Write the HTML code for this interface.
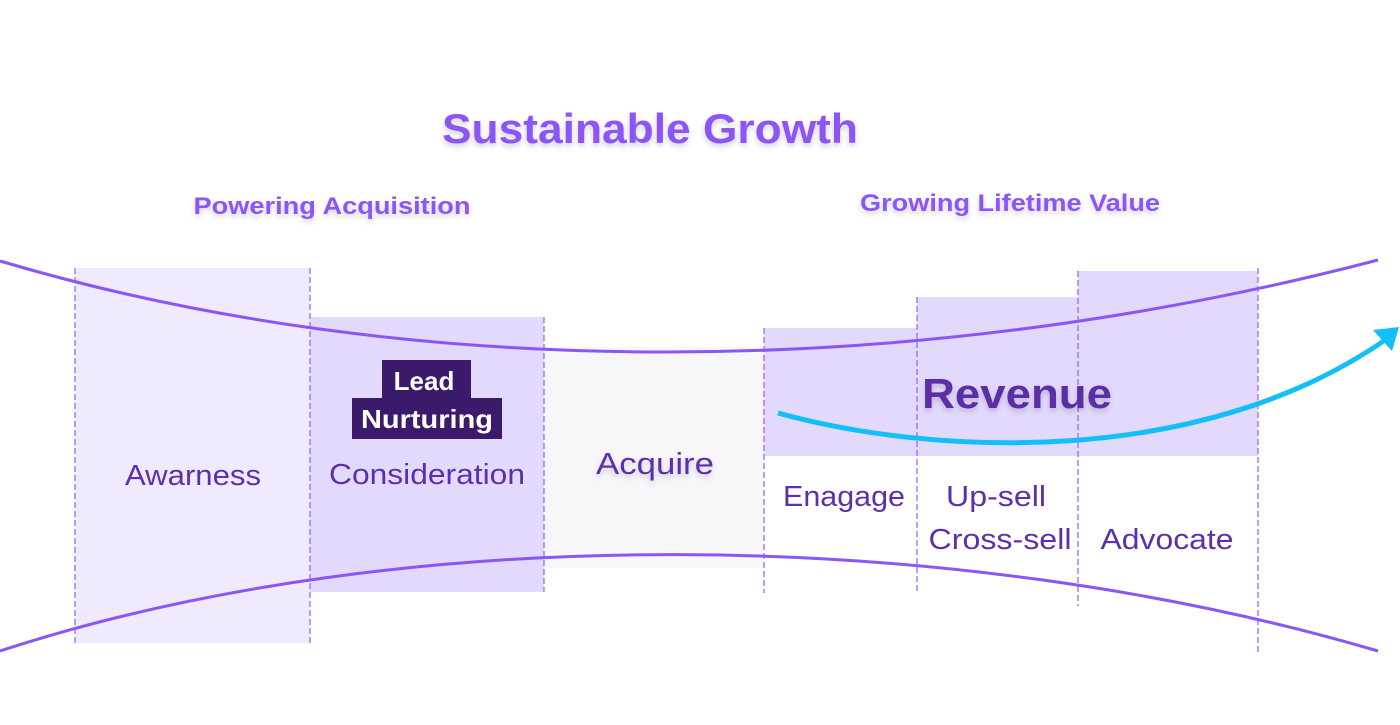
<!DOCTYPE html>
<html><head><meta charset="utf-8"><style>
html,body{margin:0;padding:0;background:#fff;}
svg{display:block;font-family:"Liberation Sans",sans-serif;}
</style></head><body>
<svg width="1400" height="725" viewBox="0 0 1400 725" xmlns="http://www.w3.org/2000/svg">
<defs>
<filter id="sh" x="-10%" y="-30%" width="120%" height="160%"><feDropShadow dx="0" dy="3" stdDeviation="3" flood-color="#000" flood-opacity="0.18"/></filter>
</defs>
<rect width="1400" height="725" fill="#fff"/>
<rect x="75" y="268" width="235" height="375" fill="#efeafd"/>
<rect x="310" y="317" width="234" height="275" fill="#e3d9fd"/>
<rect x="544" y="347" width="220" height="221" fill="#f7f7fa"/>
<rect x="764" y="328" width="153" height="128" fill="#e3d9fd"/>
<rect x="917" y="297" width="161" height="159" fill="#e3d9fd"/>
<rect x="1078" y="271" width="180" height="185" fill="#e3d9fd"/>
<g stroke="#9b6bff" stroke-width="1.3" stroke-dasharray="6,3" fill="none">
<line x1="75" y1="268" x2="75" y2="643"/>
<line x1="310" y1="268" x2="310" y2="643"/>
<line x1="544" y1="317" x2="544" y2="592"/>
<line x1="764" y1="328" x2="764" y2="593"/>
<line x1="917" y1="297" x2="917" y2="593"/>
<line x1="1078" y1="271" x2="1078" y2="606"/>
<line x1="1258" y1="268" x2="1258" y2="652"/>
</g>
<path d="M0,261 C 400,380 900,385 1378,260" stroke="#8b55f7" stroke-width="3" fill="none"/>
<path d="M0,651 C 400,520 950,525 1378,651" stroke="#8b55f7" stroke-width="3" fill="none"/>
<path d="M778,413 C 930,455 1200,470 1388,338" stroke="#12bff9" stroke-width="5" fill="none"/>
<path d="M1373,330 L1399,327 L1392,351 Z" fill="#12bff9"/>
<g fill="#8b55f7" font-weight="bold" filter="url(#sh)">
<text x="650" y="143" font-size="42" text-anchor="middle" textLength="416" lengthAdjust="spacingAndGlyphs">Sustainable Growth</text>
<text x="332" y="214" font-size="24" text-anchor="middle" textLength="277" lengthAdjust="spacingAndGlyphs">Powering Acquisition</text>
<text x="1010" y="211" font-size="24" text-anchor="middle" textLength="300" lengthAdjust="spacingAndGlyphs">Growing Lifetime Value</text>
</g>
<rect x="382" y="360" width="89" height="39" fill="#3b1a6b"/>
<rect x="352" y="398" width="150" height="41" fill="#3b1a6b"/>
<text x="424" y="390" font-size="26" font-weight="bold" fill="#fff" text-anchor="middle">Lead</text>
<text x="427" y="428" font-size="26" font-weight="bold" fill="#fff" text-anchor="middle" textLength="132" lengthAdjust="spacingAndGlyphs">Nurturing</text>
<g fill="#5b2fb0" font-size="29">
<text x="193" y="485" text-anchor="middle" textLength="136" lengthAdjust="spacingAndGlyphs">Awarness</text>
<text x="427" y="484" text-anchor="middle" textLength="196" lengthAdjust="spacingAndGlyphs">Consideration</text>
<text x="655" y="474" font-size="31" text-anchor="middle" filter="url(#sh)" textLength="118" lengthAdjust="spacingAndGlyphs">Acquire</text>
<text x="844" y="506" text-anchor="middle" textLength="122" lengthAdjust="spacingAndGlyphs">Enagage</text>
<text x="996" y="506" text-anchor="middle" textLength="100" lengthAdjust="spacingAndGlyphs">Up-sell</text>
<text x="1000" y="549" text-anchor="middle" textLength="143" lengthAdjust="spacingAndGlyphs">Cross-sell</text>
<text x="1167" y="549" text-anchor="middle" textLength="133" lengthAdjust="spacingAndGlyphs">Advocate</text>
</g>
<text x="1017" y="408" font-size="42" font-weight="bold" fill="#5b2fa6" text-anchor="middle" filter="url(#sh)" textLength="190" lengthAdjust="spacingAndGlyphs">Revenue</text>
</svg>
</body></html>
